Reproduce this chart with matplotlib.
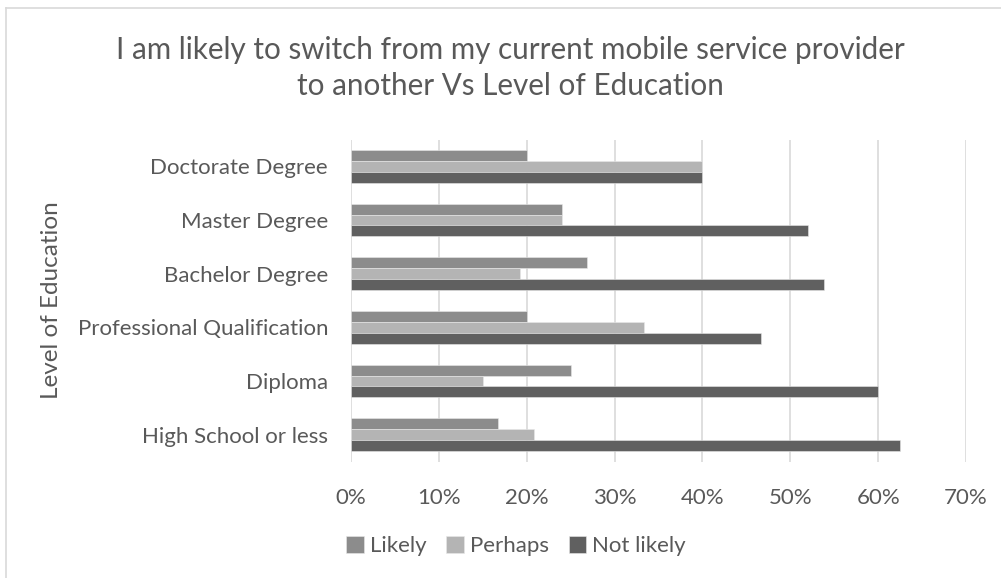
import numpy as np
import matplotlib as mpl
mpl.use('Agg')
import matplotlib.pyplot as plt
from matplotlib.lines import Line2D
from matplotlib.ticker import PercentFormatter

# survey shares per education level (top to bottom as drawn)
levels = ['Doctorate Degree', 'Master Degree', 'Bachelor Degree',
          'Professional Qualification', 'Diploma', 'High School or less']
likely = [0.20, 0.24, 0.269, 0.20, 0.25, 0.167]
perhaps = [0.40, 0.24, 0.192, 0.333, 0.15, 0.208]
not_likely = [0.40, 0.52, 0.538, 0.467, 0.60, 0.625]
series_names = ['Likely', 'Perhaps', 'Not likely']
x_ticks = [0.0, 0.1, 0.2, 0.3, 0.4, 0.5, 0.6, 0.7]

colors = ['#8c8c8c', '#b4b4b4', '#606060']
text_color = '#595959'
grid_color = '#d9d9d9'

plt.rcParams['font.family'] = ['Lato', 'DejaVu Sans']

W, H = 1001, 578
fig = plt.figure(figsize=(W / 100, H / 100), dpi=100)
fig.patch.set_facecolor('white')

# plot area in pixel terms
left, right, top, bottom = 351, 966, 139.5, 461.5
ax = fig.add_axes([left / W, 1 - bottom / H, (right - left) / W, (bottom - top) / H])

pos = np.arange(len(levels))
bar_h = 0.203
for k, vals in enumerate([likely, perhaps, not_likely]):
    ax.barh(pos + (k - 1) * bar_h, vals, height=bar_h, color=colors[k],
            edgecolor='#e8e8e8', linewidth=0.4, label=series_names[k], zorder=3)

ax.set_xlim(0, 0.7)
ax.set_ylim(len(levels) - 0.5, -0.5)
ax.set_xticks(x_ticks)
ax.xaxis.set_major_formatter(PercentFormatter(1.0, decimals=0))
ax.set_yticks(pos)
ax.set_yticklabels(levels)
ax.grid(axis='x', color=grid_color, linewidth=1.2, zorder=0)
for s in ax.spines.values():
    s.set_visible(False)
ax.tick_params(axis='both', length=0, labelsize=16, colors=text_color)
ax.tick_params(axis='x', pad=19)
ax.tick_params(axis='y', pad=16.5)

ax.set_ylabel('Level of Education', fontsize=17.5, color=text_color)
ax.yaxis.set_label_coords((62 - left) / (right - left), 0.5)

fig.text(510 / W, 1 - 50 / H,
         'I am likely to switch from my current mobile service provider',
         ha='center', va='center', fontsize=21.3, color=text_color)
fig.text(510 / W, 1 - 86 / H, 'to another Vs Level of Education',
         ha='center', va='center', fontsize=21.3, color=text_color)

handles, labels = ax.get_legend_handles_labels()
fig.legend(handles, labels, loc='center', bbox_to_anchor=(516 / W, 1 - 546 / H),
           ncol=3, frameon=False, fontsize=16, labelcolor=text_color,
           handlelength=0.8, handleheight=0.8, handletextpad=0.25,
           columnspacing=0.9)

# chart area border along the top and left edge
fig.add_artist(Line2D([6 / W, 6 / W], [0, 1 - 8 / H], transform=fig.transFigure,
                      color=grid_color, linewidth=1.2))
fig.add_artist(Line2D([6 / W, 1], [1 - 8 / H, 1 - 8 / H], transform=fig.transFigure,
                      color=grid_color, linewidth=1.2))

fig.savefig('out.png', dpi=100, facecolor='white')
